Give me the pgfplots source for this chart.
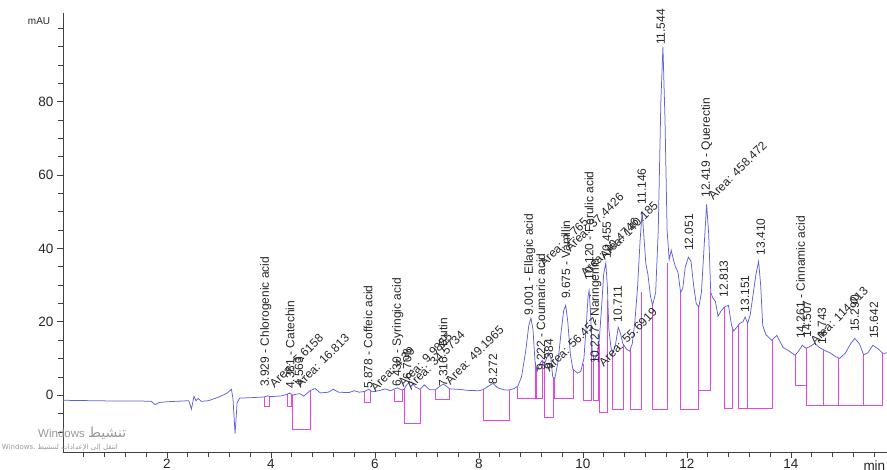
\documentclass[border=0pt]{standalone}
\usepackage{fontspec}
\setmainfont{Liberation Sans}
\newfontfamily\arabicfont[Script=Arabic]{DejaVu Sans}
\usepackage{pgfplots}
\pgfplotsset{compat=1.18}
\TeXXeTstate=1
\definecolor{trace}{RGB}{95,95,225}
\definecolor{integ}{RGB}{228,70,225}
\newcommand{\lf}{\fontsize{12}{14}\selectfont}
\newcommand{\vlab}[3]{\node[rotate=90,anchor=west,inner sep=1pt,font=\lf,text=black!85] at (axis cs:#1,#2) {#3};}
\newcommand{\dlab}[3]{\node[rotate=45,anchor=west,inner sep=1pt,font=\lf,text=black!85] at (axis cs:#1,#2) {#3};}
\newcommand{\ibox}[5]{\addplot[integ,line width=0.7pt] coordinates {(#1,#2) (#1,#5) (#3,#5) (#3,#4)};}
\newcommand{\ivl}[3]{\addplot[integ,line width=0.7pt] coordinates {(#1,#2) (#1,#3)};}

\pgfplotstableread{
t y
0.00 -1.4
0.50 -1.5
1.00 -1.6
1.50 -1.6
1.70 -1.7
1.77 -2.6
1.85 -2.0
2.00 -1.8
2.30 -1.6
2.42 -1.5
2.47 -3.8
2.52 -0.3
2.56 -1.5
2.60 -0.9
2.66 -1.7
2.80 -1.5
3.00 -0.5
3.15 0.5
3.24 1.6
3.27 -1.0
3.31 -10.5
3.35 -2.0
3.40 -0.8
3.60 -0.7
3.87 -0.5
3.93 -0.2
4.00 -0.4
4.20 -0.2
4.31 0.2
4.35 0.6
4.42 0.0
4.50 0.3
4.56 0.4
4.63 -0.3
4.75 1.2
4.85 1.8
4.95 0.6
5.10 0.8
5.20 1.6
5.30 0.8
5.50 0.7
5.60 1.2
5.70 0.8
5.80 1.0
5.88 1.6
5.95 0.9
6.10 1.3
6.20 1.7
6.30 1.2
6.43 2.0
6.52 1.4
6.56 1.6
6.62 3.0
6.70 3.6
6.78 2.2
6.87 1.6
6.95 2.8
7.05 1.5
7.17 1.5
7.25 2.5
7.32 3.0
7.38 2.4
7.44 1.7
7.60 1.6
7.80 1.3
8.00 1.2
8.08 1.5
8.20 2.6
8.27 3.2
8.36 2.0
8.50 1.4
8.58 1.4
8.68 1.8
8.75 2.5
8.82 5.0
8.90 12.0
8.96 19.0
9.00 21.0
9.04 18.0
9.08 9.0
9.12 6.5
9.17 8.5
9.22 9.5
9.26 8.5
9.30 10.0
9.34 11.5
9.38 10.5
9.42 5.0
9.46 4.5
9.52 9.0
9.58 17.0
9.63 23.0
9.67 24.5
9.71 20.0
9.76 11.0
9.81 7.0
9.90 6.0
9.96 6.5
10.02 10.0
10.07 20.0
10.10 27.0
10.12 28.5
10.15 22.0
10.18 12.0
10.22 9.5
10.27 11.0
10.31 14.0
10.36 24.0
10.40 33.0
10.44 36.0
10.47 30.0
10.50 18.0
10.54 13.0
10.58 11.5
10.63 14.0
10.68 18.5
10.72 17.0
10.77 14.0
10.84 12.5
10.90 12.0
10.95 14.0
11.00 20.0
11.05 29.0
11.10 42.0
11.14 50.0
11.17 44.0
11.21 36.0
11.25 33.0
11.30 27.0
11.34 24.5
11.40 28.0
11.45 45.0
11.50 80.0
11.54 95.0
11.58 75.0
11.62 45.0
11.66 37.0
11.70 39.5
11.74 37.0
11.78 35.0
11.83 33.5
11.88 28.0
11.92 29.0
11.97 35.0
12.03 37.6
12.08 36.5
12.13 30.0
12.18 25.0
12.23 24.0
12.28 28.0
12.33 40.0
12.38 52.0
12.42 44.0
12.46 28.0
12.50 26.5
12.55 25.5
12.60 21.5
12.66 23.0
12.72 24.0
12.80 24.5
12.86 19.0
12.90 17.5
12.96 18.5
13.02 19.6
13.08 20.0
13.12 21.3
13.17 19.6
13.22 22.0
13.28 28.0
13.33 33.0
13.38 36.5
13.42 30.0
13.46 19.0
13.52 16.5
13.63 15.0
13.73 16.3
13.85 13.0
13.95 12.2
14.08 10.9
14.15 12.0
14.22 13.6
14.29 12.8
14.36 13.2
14.46 14.1
14.55 13.0
14.65 12.2
14.76 11.5
14.86 10.5
14.94 10.0
15.05 11.5
15.15 14.0
15.23 15.5
15.32 14.0
15.40 11.0
15.48 11.5
15.58 13.6
15.68 12.6
15.77 11.4
15.85 11.5
}\chrom

\begin{document}
\begin{tikzpicture}
\useasboundingbox (-63pt,-18pt) rectangle (824pt,452pt);
\begin{axis}[
  at={(0,0)}, anchor=south west,
  scale only axis, width=824pt, height=439pt,
  xmin=0, xmax=15.85, ymin=-15.5, ymax=104.2,
  axis x line*=bottom, axis y line*=left,
  xtick={2,4,6,8,10,12,14},
  ytick={0,20,40,60,80},
  minor xtick={0.4,0.8,1.2,1.6,2.4,2.8,3.2,3.6,4.4,4.8,5.2,5.6,6.4,6.8,7.2,7.6,8.4,8.8,9.2,9.6,10.4,10.8,11.2,11.6,12.4,12.8,13.2,13.6,14.4,14.8,15.2,15.6},
  minor ytick={-10,-5,5,10,15,25,30,35,45,50,55,65,70,75,85,90,95,100},
  tick align=outside,
  major tick length=6pt, minor tick length=5pt,
  axis line style={draw=black!75, line width=0.8pt},
  tick style={draw=black!75, line width=0.6pt},
  ticklabel style={font=\fontsize{13.5}{15}\selectfont, text=black!85},
  xticklabel style={inner sep=1pt},
  /pgf/number format/assume math mode=true,
  clip=false,
]
% integration marks
\ibox{3.87}{-0.5}{3.96}{-0.3}{-3}
\ibox{4.31}{0.2}{4.40}{0.1}{-3}
\ibox{4.42}{0.0}{4.75}{1.2}{-9.3}
\ibox{5.79}{1.0}{5.92}{1.2}{-2}
\ibox{6.37}{1.5}{6.52}{1.4}{-1.6}
\ibox{6.56}{1.6}{6.87}{1.6}{-7.7}
\ibox{7.17}{1.5}{7.44}{1.7}{-1.2}
\ibox{8.08}{1.5}{8.58}{1.4}{-6.8}
\ibox{8.73}{2.3}{9.08}{9}{-0.8}
\ibox{9.11}{7}{9.23}{9.2}{-0.8}
\ibox{9.26}{8.5}{9.44}{4.7}{-6}
\ibox{9.46}{4.5}{9.81}{7}{-0.8}
\ibox{10.00}{8.5}{10.17}{15}{-1.4}
\ibox{10.21}{10}{10.30}{13.5}{-1.4}
\ibox{10.31}{14}{10.48}{26}{-4.6}
\ibox{10.56}{12}{10.77}{14}{-4}
\ibox{10.92}{12.5}{11.12}{28}{-4}
\ibox{11.33}{24.5}{11.62}{36}{-4}
\ibox{11.87}{28}{12.23}{24}{-4}
\ibox{12.23}{24}{12.46}{28}{1.4}
\ibox{12.73}{24}{12.88}{18}{-3.5}
\ibox{13.00}{19.5}{13.65}{15}{-3.5}
\ivl{13.17}{-3.5}{19.6}
\ibox{14.08}{10.9}{14.29}{12.8}{2.7}
\ibox{14.29}{12.8}{15.77}{11.4}{-2.7}
\ivl{14.63}{-2.7}{12.3}
\ivl{14.92}{-2.7}{10}
\ivl{15.40}{-2.7}{11}
% chromatogram
\addplot[trace, line width=0.75pt] table[x=t,y=y] {\chrom};
% peak labels
\vlab{3.90}{1.9}{3.929 - Chlorogenic acid}
\dlab{4.00}{2.4}{Area: 5.6158}
\vlab{4.37}{1.4}{4.381 - Catechin}
\vlab{4.54}{1.9}{4.563}
\dlab{4.50}{2.4}{Area: 16.813}
\vlab{5.87}{1.4}{5.878 - Coffeic acid}
\dlab{5.94}{1.4}{Area: 4.39}
\vlab{6.44}{1.9}{6.430 - Syringic acid}
\dlab{6.48}{2.7}{Area: 9.9855}
\vlab{6.62}{4.0}{6.708}
\dlab{6.63}{1.9}{Area: 34.5734}
\vlab{7.31}{1.9}{7.316 - Rutin}
\dlab{7.38}{3.3}{Area: 49.1965}
\vlab{8.27}{2.7}{8.272}
\vlab{8.98}{21.5}{9.001 - Ellagic acid}
\vlab{9.19}{6.3}{9.222 - Coumaric acid}
\dlab{9.19}{35.4}{Area: 2.765}
\vlab{9.35}{6.8}{9.384}
\dlab{9.29}{6.8}{Area: 56.457}
\vlab{9.67}{25.9}{9.675 - Vanillin}
\dlab{9.69}{39.5}{Area: 37.4426}
\vlab{10.12}{31}{10.120 - Ferulic acid}
\dlab{9.98}{32.7}{Area: 10.4746}
\vlab{10.25}{8.2}{10.227 - Naringenin}
\vlab{10.46}{37}{10.455}
\dlab{10.35}{37.3}{Area: 140.185}
\vlab{10.67}{19.6}{10.711}
\dlab{10.33}{8.2}{Area: 55.6919}
\vlab{11.13}{51.7}{11.146}
\vlab{11.50}{95.2}{11.544}
\vlab{12.04}{39}{12.051}
\vlab{12.38}{53.6}{12.419 - Querectin}
\dlab{12.44}{53.6}{Area: 458.472}
\vlab{12.71}{26.4}{12.813}
\vlab{13.12}{22.3}{13.151}
\vlab{13.42}{37.8}{13.410}
\vlab{14.19}{15}{14.261 - Cinnamic acid}
\vlab{14.31}{15.5}{14.507}
\vlab{14.60}{13.6}{14.743}
\dlab{14.40}{14.1}{Area: 114.013}
\vlab{15.23}{16.9}{15.290}
\vlab{15.60}{15}{15.642}
% axis texts
\node[font=\fontsize{10}{12}\selectfont, text=black!85] at (axis cs:-0.46,102) {mAU};
\node[anchor=west, font=\fontsize{13.5}{15}\selectfont, text=black!85] at (axis cs:15.33,-19.2) {min};
% watermark
\node[anchor=west, font=\fontsize{11.5}{13}\selectfont, text=black!40, inner sep=0pt] at (axis cs:-0.48,-10.3) {Windows {\arabicfont\fontsize{14}{15}\selectfont\beginR تنشيط\endR}};
\node[anchor=east, font=\fontsize{7}{8}\selectfont, text=black!40, inner sep=0pt] at (axis cs:1.06,-14.3) {\arabicfont\beginR انتقل إلى الإعدادات لتنشيط \beginL Windows.\endL\endR};
\end{axis}
\end{tikzpicture}
\end{document}
